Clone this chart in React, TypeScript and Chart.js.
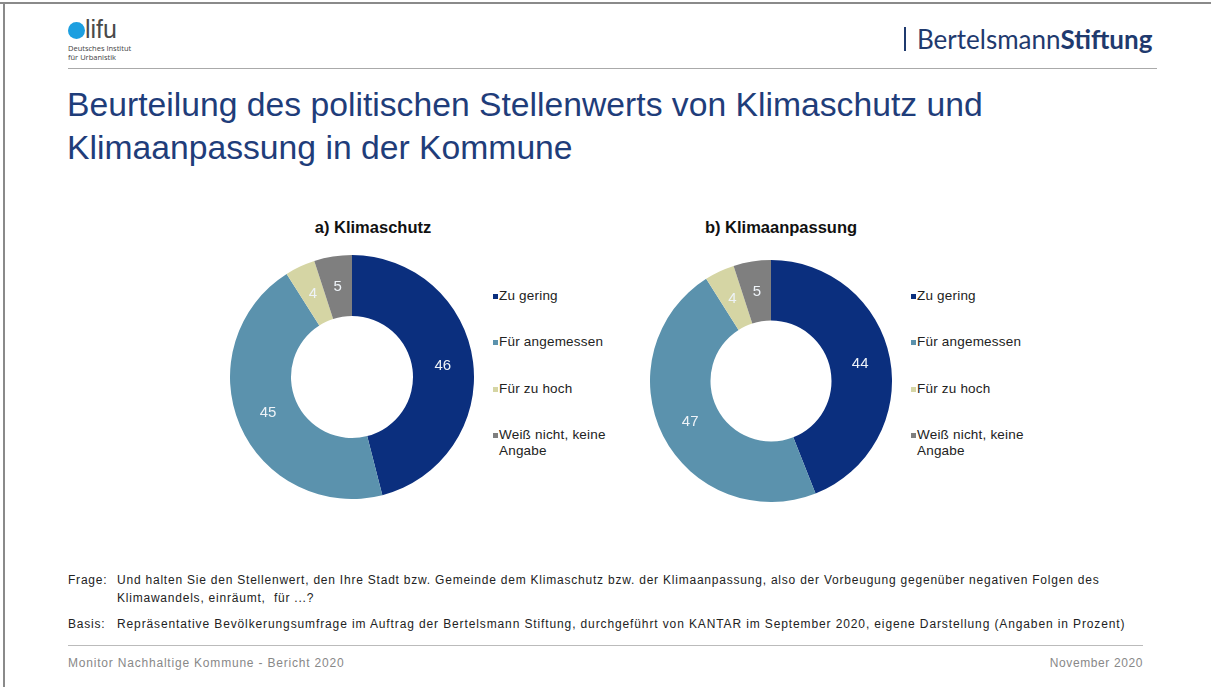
import React, { useEffect, useRef } from "react";
import { Chart, registerables } from "chart.js";

Chart.register(...registerables);

// ---- Data ----
const categories = ["Zu gering", "Für angemessen", "Für zu hoch", "Weiß nicht, keine\nAngabe"];
const klimaschutzValues = [46, 45, 4, 5];
const klimaanpassungValues = [44, 47, 4, 5];
const segmentColors = ["#0b2f7e", "#5b92ad", "#d5d5a4", "#7f7f7f"];

const FONT = '"Liberation Sans", Arial, sans-serif';

const valueLabelPlugin = {
  id: "valueLabels",
  afterDatasetsDraw(chart: any) {
    const { ctx } = chart;
    const meta = chart.getDatasetMeta(0);
    const data = chart.data.datasets[0].data;
    ctx.save();
    ctx.font = `15px ${FONT}`;
    ctx.fillStyle = "#eef3f8";
    ctx.textAlign = "center";
    ctx.textBaseline = "middle";
    meta.data.forEach((arc: any, i: number) => {
      const p = arc.tooltipPosition(false);
      ctx.fillText(String(data[i]), p.x, p.y);
    });
    ctx.restore();
  },
};

function Doughnut({ values, left, top, size }: { values: number[]; left: number; top: number; size: number }) {
  const ref = useRef<HTMLCanvasElement>(null);
  useEffect(() => {
    const chart = new Chart(ref.current as HTMLCanvasElement, {
      type: "doughnut",
      data: {
        labels: categories,
        datasets: [
          {
            data: values,
            backgroundColor: segmentColors,
            borderWidth: 0,
            hoverOffset: 0,
          },
        ],
      },
      options: {
        responsive: false,
        maintainAspectRatio: false,
        animation: false,
        cutout: "50%",
        events: [],
        layout: { padding: 0 },
        plugins: { legend: { display: false }, tooltip: { enabled: false } },
      } as any,
      plugins: [valueLabelPlugin],
    });
    return () => chart.destroy();
  }, []);
  return (
    <canvas
      ref={ref}
      width={size}
      height={size}
      style={{ position: "absolute", left, top, width: size, height: size }}
    />
  );
}

function Legend({ left, top }: { left: number; top: number }) {
  const ys = [0, 46, 93, 139];
  return (
    <>
      {categories.map((c, i) => (
        <div
          key={i}
          style={{
            position: "absolute",
            left,
            top: top + ys[i],
            fontFamily: FONT,
            fontSize: 13.5,
            letterSpacing: "0.2px",
            lineHeight: "16px",
            color: "#222",
            whiteSpace: "pre",
          }}
        >
          <span
            style={{
              position: "absolute",
              left: -6,
              top: 6,
              width: 5,
              height: 5,
              background: segmentColors[i],
            }}
          />
          {c}
        </div>
      ))}
    </>
  );
}

const abs = (s: React.CSSProperties): React.CSSProperties => ({ position: "absolute", ...s });

const noteStyle: React.CSSProperties = {
  fontSize: 12,
  letterSpacing: "0.78px",
  lineHeight: "18px",
  color: "#222",
  whiteSpace: "pre",
};

export default function App() {
  return (
    <div
      style={{
        position: "absolute",
        left: 0,
        top: 0,
        width: 1211,
        height: 687,
        background: "#fff",
        overflow: "hidden",
        fontFamily: FONT,
      }}
    >
      {/* frame */}
      <div style={abs({ left: 0, top: 2, width: 1211, height: 2, background: "#8a8a8a" })} />
      <div style={abs({ left: 3, top: 2, width: 2, height: 685, background: "#8a8a8a" })} />

      {/* difu logo */}
      <div style={abs({ left: 68, top: 22, width: 17, height: 17, borderRadius: "50%", background: "#1c9fe0" })} />
      <div style={abs({ left: 85, top: 15, fontSize: 25, lineHeight: "28px", color: "#4a4a4a", fontFamily: FONT })}>
        lifu
      </div>
      <div style={abs({ left: 68, top: 44, fontSize: 7.5, lineHeight: "9px", color: "#444", fontFamily: '"Open Sans", sans-serif' })}>
        Deutsches Institut
        <br />
        für Urbanistik
      </div>

      {/* Bertelsmann */}
      <div style={abs({ left: 904, top: 27, width: 2, height: 24, background: "#1f3a6e" })} />
      <div style={abs({ left: 917, top: 23, fontSize: 26, lineHeight: "32px", color: "#1f3a6e", fontFamily: "Lato, sans-serif" })}>
        Bertelsmann<b>Stiftung</b>
      </div>

      {/* header rule */}
      <div style={abs({ left: 68, top: 68, width: 1089, height: 1, background: "#aaa" })} />

      {/* title */}
      <div style={abs({ left: 67, top: 83, fontSize: 33.7, lineHeight: "43px", color: "#1f3d7a", whiteSpace: "pre" })}>
        {"Beurteilung des politischen Stellenwerts von Klimaschutz und\nKlimaanpassung in der Kommune"}
      </div>

      {/* chart titles */}
      <div style={abs({ left: 273, width: 200, top: 218, textAlign: "center", fontSize: 16.5, fontWeight: "bold", color: "#111" })}>
        a) Klimaschutz
      </div>
      <div style={abs({ left: 681, width: 200, top: 218, textAlign: "center", fontSize: 16.5, fontWeight: "bold", color: "#111" })}>
        b) Klimaanpassung
      </div>

      <Doughnut values={klimaschutzValues} left={230} top={255} size={244} />
      <Doughnut values={klimaanpassungValues} left={650} top={260} size={242} />

      <Legend left={499} top={288} />
      <Legend left={917} top={288} />

      {/* notes */}
      <div style={abs({ left: 68, top: 571, ...noteStyle })}>Frage:</div>
      <div style={abs({ left: 117, top: 571, ...noteStyle })}>
        {"Und halten Sie den Stellenwert, den Ihre Stadt bzw. Gemeinde dem Klimaschutz bzw. der Klimaanpassung, also der Vorbeugung gegenüber negativen Folgen des\nKlimawandels, einräumt,  für ...?"}
      </div>
      <div style={abs({ left: 68, top: 615, ...noteStyle })}>Basis:</div>
      <div style={abs({ left: 117, top: 615, ...noteStyle, letterSpacing: "0.88px" })}>
        Repräsentative Bevölkerungsumfrage im Auftrag der Bertelsmann Stiftung, durchgeführt von KANTAR im September 2020, eigene Darstellung (Angaben in Prozent)
      </div>

      {/* footer */}
      <div style={abs({ left: 68, top: 645, width: 1075, height: 1, background: "#bbb" })} />
      <div style={abs({ left: 68, top: 655, fontSize: 12, letterSpacing: "0.8px", lineHeight: "16px", color: "#888", whiteSpace: "pre" })}>
        Monitor Nachhaltige Kommune - Bericht 2020
      </div>
      <div style={abs({ left: 943, width: 200, top: 655, textAlign: "right", fontSize: 12, letterSpacing: "0.6px", lineHeight: "16px", color: "#888" })}>
        November 2020
      </div>
    </div>
  );
}
